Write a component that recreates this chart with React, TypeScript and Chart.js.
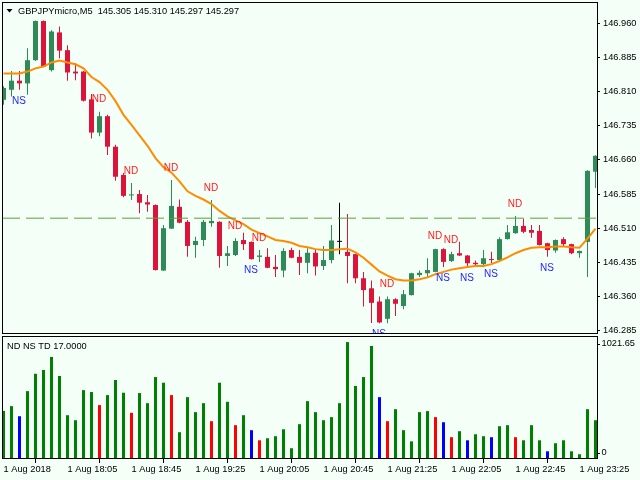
import React, { useEffect, useRef } from "react";
import { Chart, registerables } from "chart.js";

Chart.register(...registerables);

// ---------------- data ----------------
const opens = [
  146.792, 146.814, 146.834, 146.828, 146.879, 146.965, 146.857, 146.940, 146.901, 146.854,
  146.854, 146.793, 146.720, 146.756, 146.689, 146.627, 146.582, 146.585, 146.567, 146.561,
  146.417, 146.509, 146.557, 146.524, 146.473, 146.484, 146.521, 146.524, 146.449, 146.451,
  146.484, 146.480, 146.447, 146.447, 146.425, 146.417, 146.462, 146.447, 146.434, 146.456,
  146.427, 146.440, 146.480, 146.458, 146.453, 146.400, 146.378, 146.349, 146.311, 146.354,
  146.339, 146.363, 146.407, 146.411, 146.414, 146.464, 146.438, 146.455, 146.450, 146.434,
  146.431, 146.442, 146.440, 146.486, 146.499, 146.515, 146.506, 146.504, 146.477, 146.461,
  146.486, 146.475, 146.455, 146.480, 146.634,
];
const highs = [
  146.822, 146.855, 146.855, 146.905, 146.966, 146.966, 146.945, 146.953, 146.912, 146.872,
  146.855, 146.805, 146.766, 146.759, 146.693, 146.631, 146.609, 146.594, 146.583, 146.562,
  146.517, 146.616, 146.573, 146.528, 146.491, 146.528, 146.572, 146.525, 146.471, 146.488,
  146.500, 146.481, 146.462, 146.466, 146.451, 146.466, 146.467, 146.462, 146.466, 146.462,
  146.471, 146.517, 146.566, 146.541, 146.454, 146.414, 146.395, 146.360, 146.360, 146.356,
  146.374, 146.412, 146.417, 146.444, 146.465, 146.466, 146.458, 146.480, 146.451, 146.439,
  146.462, 146.458, 146.490, 146.517, 146.537, 146.530, 146.517, 146.517, 146.478, 146.485,
  146.490, 146.476, 146.461, 146.637, 146.670,
];
const lows = [
  146.781, 146.799, 146.814, 146.803, 146.877, 146.864, 146.854, 146.883, 146.834, 146.835,
  146.788, 146.707, 146.712, 146.671, 146.614, 146.578, 146.572, 146.543, 146.546, 146.417,
  146.416, 146.508, 146.521, 146.447, 146.445, 146.471, 146.513, 146.423, 146.427, 146.449,
  146.462, 146.441, 146.436, 146.422, 146.403, 146.402, 146.444, 146.407, 146.411, 146.406,
  146.418, 146.433, 146.453, 146.389, 146.389, 146.338, 146.302, 146.301, 146.301, 146.317,
  146.332, 146.362, 146.403, 146.403, 146.413, 146.425, 146.436, 146.449, 146.425, 146.429,
  146.424, 146.433, 146.439, 146.485, 146.498, 146.499, 146.489, 146.472, 146.447, 146.456,
  146.469, 146.453, 146.445, 146.403, 146.598,
];
const closes = [
  146.818, 146.834, 146.828, 146.879, 146.965, 146.865, 146.942, 146.900, 146.852, 146.850,
  146.790, 146.720, 146.756, 146.689, 146.623, 146.581, 146.584, 146.566, 146.562, 146.418,
  146.510, 146.559, 146.522, 146.471, 146.482, 146.524, 146.526, 146.449, 146.455, 146.482,
  146.475, 146.442, 146.450, 146.423, 146.420, 146.460, 146.445, 146.434, 146.456, 146.426,
  146.440, 146.483, 146.480, 146.449, 146.400, 146.374, 146.346, 146.303, 146.354, 146.344,
  146.365, 146.411, 146.412, 146.418, 146.464, 146.436, 146.453, 146.450, 146.433, 146.431,
  146.444, 146.440, 146.486, 146.501, 146.515, 146.502, 146.500, 146.473, 146.462, 146.484,
  146.475, 146.455, 146.460, 146.636, 146.669,
];
const maValues = [
  146.850, 146.850, 146.850, 146.854, 146.861, 146.865, 146.874, 146.878, 146.874, 146.870,
  146.861, 146.842, 146.831, 146.814, 146.789, 146.759, 146.737, 146.714, 146.691, 146.664,
  146.644, 146.632, 146.613, 146.591, 146.581, 146.573, 146.563, 146.548, 146.536, 146.527,
  146.519, 146.507, 146.499, 146.492, 146.484, 146.482, 146.478, 146.471, 146.468, 146.464,
  146.462, 146.462, 146.464, 146.465, 146.457, 146.445, 146.430, 146.415, 146.406, 146.398,
  146.395, 146.395, 146.398, 146.402, 146.409, 146.414, 146.419, 146.422, 146.425, 146.427,
  146.427, 146.431, 146.438, 146.446, 146.455, 146.462, 146.467, 146.468, 146.468, 146.470,
  146.470, 146.468, 146.467, 146.487, 146.509,
];
const volumes = [
  415, 457, 368, 589, 742, 775, 890, 722, 377, 333,
  598, 581, 466, 554, 687, 575, 398, 572, 483, 713,
  663, 554, 227, 536, 404, 483, 324, 663, 495, 289,
  377, 245, 156, 174, 192, 253, 86, 298, 501, 404,
  333, 360, 483, 1021, 634, 713, 987, 536, 324, 430,
  245, 147, 404, 413, 360, 315, 183, 236, 156, 209,
  192, 183, 280, 289, 183, 156, 289, 156, 59, 130,
  156, 59, 33, 430, 333,
];
const ndBars = [12, 16, 21, 26, 29, 32, 48, 54, 56, 64];
const nsBars = [2, 31, 47, 55, 58, 61, 68];
const levelPrice = 146.532;
const priceTicks = [146.96, 146.885, 146.81, 146.735, 146.66, 146.585, 146.51, 146.435, 146.36, 146.285];
const volumeTicks = [1021.65, 0];
const timeTickIndex = [0, 8, 16, 24, 32, 40, 48, 56, 64, 72];
const timeTickLabels = [
  "1 Aug 2018", "1 Aug 18:05", "1 Aug 18:45", "1 Aug 19:25", "1 Aug 20:05",
  "1 Aug 20:45", "1 Aug 21:25", "1 Aug 22:05", "1 Aug 22:45", "1 Aug 23:25",
];
const headerText = "GBPJPYmicro,M5  145.305 145.310 145.297 145.297";
const subTitle = "ND NS TD 17.0000";

// ---------------- styles ----------------
const BG = "#F4FFF7";
const BULL = "#2E8B57";
const BEAR = "#DC143C";
const DOJI = "#000000";
const FONT = "Liberation Sans";
const FS = 9.25;
const X_MIN = -0.1875;
const X_MAX = 74.1875;
const P_MIN = 146.2798;
const P_MAX = 147.0068;
const V_MAX = 1074.5;

const candleColors = opens.map((o, i) => (closes[i] > o ? BULL : closes[i] < o ? BEAR : DOJI));
const volumeColors = volumes.map((_, i) =>
  ndBars.includes(i) ? "#FF0000" : nsBars.includes(i) ? "#0000FF" : "#008000"
);

const fixY = (s: any) => {
  s.width = 43;
  s.paddingTop = 0;
  s.paddingBottom = 0;
};

const mainPlugin = {
  id: "mainDecor",
  afterDatasetsDraw(chart: any) {
    const { ctx, chartArea: a } = chart;
    const xs = chart.scales.x;
    const ys = chart.scales.y;
    ctx.save();
    ctx.beginPath();
    ctx.rect(a.left, a.top, a.right - a.left, a.bottom - a.top);
    ctx.clip();
    ctx.font = `10px "${FONT}"`;
    ctx.textAlign = "center";
    ctx.textBaseline = "middle";
    ctx.fillStyle = "#FF1A1A";
    ndBars.forEach((i) => {
      ctx.fillText("ND", xs.getPixelForValue(i) - 0.5, ys.getPixelForValue(highs[i]) - 12);
    });
    ctx.fillStyle = "#2424FF";
    nsBars.forEach((i) => {
      ctx.fillText("NS", xs.getPixelForValue(i) - 0.5, ys.getPixelForValue(lows[i]) + 11);
    });
    ctx.restore();
  },
  afterDraw(chart: any) {
    const { ctx, chartArea: a } = chart;
    ctx.save();
    ctx.strokeStyle = "#000";
    ctx.lineWidth = 1;
    ctx.beginPath();
    ctx.moveTo(a.left + 0.5, a.top);
    ctx.lineTo(a.left + 0.5, a.bottom + 1);
    ctx.moveTo(a.left, a.top + 0.5);
    ctx.lineTo(a.right + 1, a.top + 0.5);
    ctx.moveTo(a.left, a.bottom + 0.5);
    ctx.lineTo(a.right + 1, a.bottom + 0.5);
    ctx.stroke();
    // header
    ctx.fillStyle = "#000";
    ctx.beginPath();
    ctx.moveTo(6.5, 9);
    ctx.lineTo(12.5, 9);
    ctx.lineTo(9.5, 12.5);
    ctx.closePath();
    ctx.fill();
    ctx.font = `${FS}px "${FONT}"`;
    ctx.textAlign = "left";
    ctx.textBaseline = "alphabetic";
    ctx.fillText(headerText, 18, 14);
    ctx.restore();
  },
};

const volPlugin = {
  id: "volDecor",
  afterDraw(chart: any) {
    const { ctx, chartArea: a } = chart;
    const ys = chart.scales.y;
    ctx.save();
    ctx.strokeStyle = "#000";
    ctx.lineWidth = 1;
    ctx.beginPath();
    ctx.moveTo(a.left + 0.5, a.top);
    ctx.lineTo(a.left + 0.5, a.bottom);
    ctx.moveTo(a.left, a.top + 0.5);
    ctx.lineTo(a.right + 1, a.top + 0.5);
    ctx.stroke();
    ctx.fillStyle = "#000";
    ctx.font = `${FS}px "${FONT}"`;
    ctx.textAlign = "left";
    ctx.textBaseline = "alphabetic";
    ctx.fillText(subTitle, 7, 12.5);
    ctx.textBaseline = "middle";
    volumeTicks.forEach((v) => {
      const py = Math.min(Math.max(ys.getPixelForValue(v), a.top + 7.5), a.bottom - 5.5);
      const yy = Math.round(py) + 0.5;
      ctx.beginPath();
      ctx.moveTo(a.right, yy);
      ctx.lineTo(a.right + 3, yy);
      ctx.stroke();
      ctx.fillText(v === 0 ? "0" : v.toFixed(2), a.right + 4.5, py);
    });
    ctx.restore();
  },
};

export default function App() {
  const mainRef = useRef<HTMLCanvasElement | null>(null);
  const volRef = useRef<HTMLCanvasElement | null>(null);

  useEffect(() => {
    document.body.style.margin = "0";
    document.body.style.background = BG;
    Chart.defaults.font.family = FONT;
    Chart.defaults.color = "#000";

    const main = new Chart(mainRef.current as HTMLCanvasElement, {
      type: "bar",
      data: {
        datasets: [
          {
            type: "line",
            label: "level",
            data: [
              { x: X_MIN, y: levelPrice },
              { x: X_MAX, y: levelPrice },
            ],
            borderColor: "#5AA03C",
            borderWidth: 1,
            borderDash: [18, 6],
            pointRadius: 0,
            order: 0,
            clip: 0,
          } as any,
          {
            type: "line",
            label: "MA",
            data: maValues.map((v, i) => ({ x: i, y: v })),
            borderColor: "#FF8C00",
            borderWidth: 2,
            pointRadius: 0,
            tension: 0,
            order: 1,
            clip: 0,
          } as any,
          {
            type: "bar",
            label: "body",
            data: opens.map((o, i) => ({ x: i, y: [o, closes[i]] })),
            backgroundColor: candleColors,
            borderWidth: 0,
            barThickness: 5,
            minBarLength: 1,
            inflateAmount: 0,
            grouped: false,
            order: 2,
            clip: 0,
          } as any,
          {
            type: "bar",
            label: "wick",
            data: lows.map((l, i) => ({ x: i, y: [l, highs[i]] })),
            backgroundColor: candleColors,
            borderWidth: 0,
            barThickness: 1,
            inflateAmount: 0,
            grouped: false,
            order: 3,
            clip: 0,
          } as any,
        ],
      },
      options: {
        responsive: false,
        maintainAspectRatio: false,
        animation: false,
        devicePixelRatio: 1,
        layout: { padding: { left: 2, top: 2, right: 0, bottom: 3 } },
        plugins: { legend: { display: false }, tooltip: { enabled: false } },
        scales: {
          x: { type: "linear", min: X_MIN, max: X_MAX, offset: false, display: false },
          y: {
            type: "linear",
            position: "right",
            min: P_MIN,
            max: P_MAX,
            beginAtZero: false,
            afterBuildTicks: (s: any) => {
              s.ticks = priceTicks.map((v) => ({ value: v }));
            },
            afterFit: fixY,
            ticks: {
              callback: (v: any) => Number(v).toFixed(3),
              font: { family: FONT, size: FS },
              color: "#000",
              padding: 3,
            },
            grid: { drawOnChartArea: false, color: "#000", tickLength: 3 },
            border: { display: true, color: "#000" },
          },
        },
      } as any,
      plugins: [mainPlugin],
    });

    const vol = new Chart(volRef.current as HTMLCanvasElement, {
      type: "bar",
      data: {
        datasets: [
          {
            label: "volume",
            data: volumes.map((v, i) => ({ x: i, y: v })),
            backgroundColor: volumeColors,
            borderWidth: 0,
            barThickness: 3,
            inflateAmount: 0,
            clip: 0,
          } as any,
        ],
      },
      options: {
        responsive: false,
        maintainAspectRatio: false,
        animation: false,
        devicePixelRatio: 1,
        layout: { padding: { left: 2, top: 0, right: 0, bottom: 0 } },
        plugins: { legend: { display: false }, tooltip: { enabled: false } },
        scales: {
          x: {
            type: "linear",
            min: X_MIN,
            max: X_MAX,
            offset: false,
            afterBuildTicks: (s: any) => {
              s.ticks = timeTickIndex.map((v) => ({ value: v }));
            },
            afterFit: (s: any) => {
              s.height = 22;
              s.paddingLeft = 0;
              s.paddingRight = 0;
            },
            ticks: {
              autoSkip: false,
              maxRotation: 0,
              minRotation: 0,
              align: "start",
              padding: 1,
              font: { family: FONT, size: FS },
              color: "#000",
              callback: (_v: any, idx: number) => timeTickLabels[idx],
            },
            grid: { drawOnChartArea: false, color: "#000", tickLength: 5 },
            border: { display: true, color: "#000" },
          },
          y: {
            type: "linear",
            position: "right",
            min: 0,
            max: V_MAX,
            afterFit: fixY,
            ticks: { display: false },
            grid: { display: false },
            border: { display: true, color: "#000" },
          },
        },
      } as any,
      plugins: [volPlugin],
    });

    return () => {
      main.destroy();
      vol.destroy();
    };
  }, []);

  return (
    <div style={{ position: "fixed", left: 0, top: 0, width: 640, height: 480, background: BG, overflow: "hidden" }}>
      <canvas ref={mainRef} width={640} height={336} style={{ position: "absolute", left: 0, top: 0, width: 640, height: 336 }} />
      <canvas ref={volRef} width={640} height={144} style={{ position: "absolute", left: 0, top: 336, width: 640, height: 144 }} />
    </div>
  );
}
